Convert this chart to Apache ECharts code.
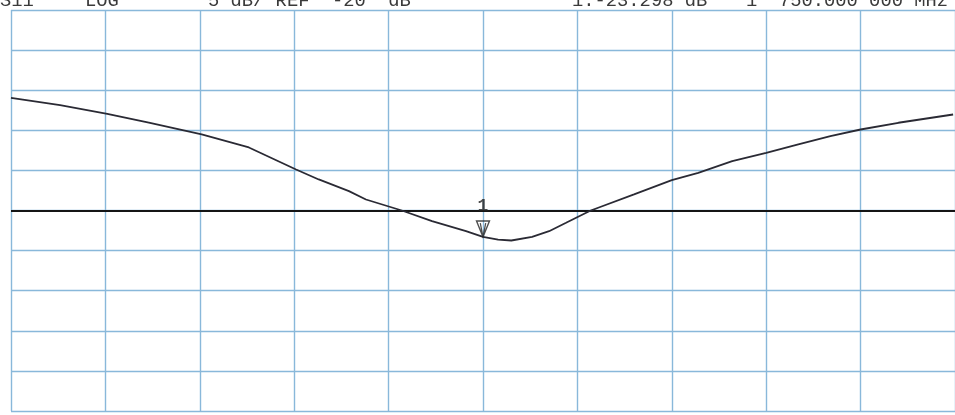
<!DOCTYPE html>
<html>
<head>
<meta charset="utf-8">
<script src="https://cdn.jsdelivr.net/npm/echarts@6/dist/echarts.min.js"></script>
<style>
html,body{margin:0;padding:0;background:#fff;}
#c{width:955px;height:415px;}
</style>
</head>
<body>
<div id="c"></div>
<script>
// Header texts
const headerLeft = ['S11', 'LOG', '5 dB/ REF  -20  dB'];
const headerRight = ['1:-23.298 dB', '1', '750.000 000 MHz'];

// Axis setup (5 dB/div, REF -20 dB at centre; 10 x 10 divisions)
const refLevel = -20;
const dbMin = -45, dbMax = 5, dbStep = 5;
const fStart = 1500, fStop = 2000, fStep = 50;

// S11 trace (MHz, dB)
const freqs = [1500, 1526, 1551, 1573, 1601, 1626, 1651, 1663, 1679, 1688, 1707, 1723, 1741, 1750, 1758, 1765, 1776, 1785, 1794, 1806, 1811, 1830, 1850, 1864, 1882, 1900, 1917, 1934, 1950, 1970, 1999];
const s11 = [-5.95, -6.87, -7.94, -9.03, -10.52, -12.14, -14.89, -16.13, -17.59, -18.63, -20.0, -21.33, -22.58, -23.3, -23.62, -23.74, -23.28, -22.58, -21.53, -20.12, -19.66, -18.0, -16.22, -15.3, -13.85, -12.81, -11.77, -10.74, -9.9, -9.06, -8.03];

// Marker 1
const markerFreq = [1750];
const markerDb = [-23.298];
const markerLabel = ['1'];

const chart = echarts.init(document.getElementById('c'), null, {renderer: 'canvas'});
const gridColor = '#89b8da';
const font = '18.8px "Liberation Mono", "DejaVu Sans Mono", monospace';
const txt = '#3a3a3a';

chart.setOption({
  animation: false,
  backgroundColor: '#ffffff',
  grid: {left: 11, right: -2, top: 10, bottom: 4, containLabel: false},
  xAxis: {
    type: 'value', min: fStart, max: fStop, interval: fStep,
    axisLine: {show: false}, axisTick: {show: false}, axisLabel: {show: false},
    splitLine: {show: true, lineStyle: {color: gridColor, width: 1.4}}
  },
  yAxis: {
    type: 'value', min: dbMin, max: dbMax, interval: dbStep,
    axisLine: {show: false}, axisTick: {show: false}, axisLabel: {show: false},
    splitLine: {show: true, lineStyle: {color: gridColor, width: 1.4}}
  },
  graphic: [
    {type: 'text', left: 0, top: -8, style: {text: headerLeft[0], font: font, fill: txt}},
    {type: 'text', left: 85, top: -8, style: {text: headerLeft[1], font: font, fill: txt}},
    {type: 'text', left: 208, top: -8, style: {text: headerLeft[2], font: font, fill: txt}},
    {type: 'text', left: 572, top: -8, style: {text: headerRight[0], font: font, fill: txt}},
    {type: 'text', left: 746, top: -8, style: {text: headerRight[1], font: font, fill: txt}},
    {type: 'text', right: 7, top: -8, style: {text: headerRight[2], font: font, fill: txt}}
  ],
  series: [
    {
      type: 'line',
      data: freqs.map((f, i) => [f, s11[i]]),
      symbol: 'none',
      lineStyle: {color: '#2a2a34', width: 1.8},
      z: 5,
      markLine: {
        silent: true,
        symbol: ['none', 'none'],
        label: {show: false},
        lineStyle: {color: '#151515', width: 1.8, type: 'solid'},
        data: [{yAxis: refLevel}]
      }
    },
    {
      type: 'scatter',
      data: markerFreq.map((f, i) => [f, markerDb[i]]),
      symbol: 'path://M0,0 L12,0 L6,15 Z M3.5,2 L6,15 M8.5,2 L6,15',
      symbolSize: [13, 16],
      symbolOffset: [0, '-50%'],
      itemStyle: {color: 'rgba(0,0,0,0)', borderColor: '#222', borderWidth: 1.4},
      label: {
        show: true, position: 'top', distance: 5,
        formatter: (p) => markerLabel[p.dataIndex],
        fontSize: 18,
        fontWeight: 'bold',
        fontFamily: '"Liberation Mono", "DejaVu Sans Mono", monospace',
        color: '#222'
      },
      z: 6
    }
  ]
});
</script>
</body>
</html>
